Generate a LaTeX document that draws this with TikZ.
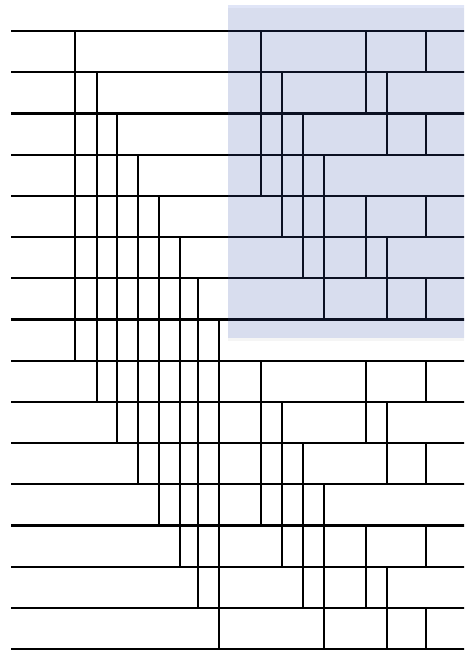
\documentclass[tikz,border=0pt]{standalone}
\usetikzlibrary{shadows}
\definecolor{hiblue}{RGB}{70,100,205}
\begin{document}
\begin{tikzpicture}[x=1pt,y=-1pt,
  wire/.style={line width=2.2pt,black},
  comp/.style={line width=2.2pt,black},
  highlight/.style={fill=hiblue,fill opacity=0.17,draw=none,
     drop shadow={shadow xshift=0pt,shadow yshift=-3pt,opacity=0.04,fill=black}}]
\useasboundingbox (0,0) rectangle (464,651);
\begin{scope}
\clip (0,0) rectangle (464,651);
% wires
\foreach \i in {0,...,15}{
  \draw[wire] (11,{31+41.2*\i}) -- (470,{31+41.2*\i});
}
% first stage: i -- i+8
\foreach \i/\x in {0/75,1/97,2/117,3/138,4/159,5/180,6/198,7/219}{
  \draw[comp] (\x,{31+41.2*\i}) -- (\x,{31+41.2*(\i+8)});
}
% two halves
\foreach \o in {0,8}{
  \foreach \i/\x in {0/261,1/282,2/303,3/324}{
    \draw[comp] (\x,{31+41.2*(\i+\o)}) -- (\x,{31+41.2*(\i+\o+4)});
  }
  \foreach \i/\x in {0/366,4/366,1/387,5/387}{
    \draw[comp] (\x,{31+41.2*(\i+\o)}) -- (\x,{31+41.2*(\i+\o+2)});
  }
  \foreach \i in {0,2,4,6}{
    \draw[comp] (426,{31+41.2*(\i+\o)}) -- (426,{31+41.2*(\i+\o+1)});
  }
}
% highlight
\fill[highlight] (228,5) rectangle (470,338);
\end{scope}
\end{tikzpicture}
\end{document}
